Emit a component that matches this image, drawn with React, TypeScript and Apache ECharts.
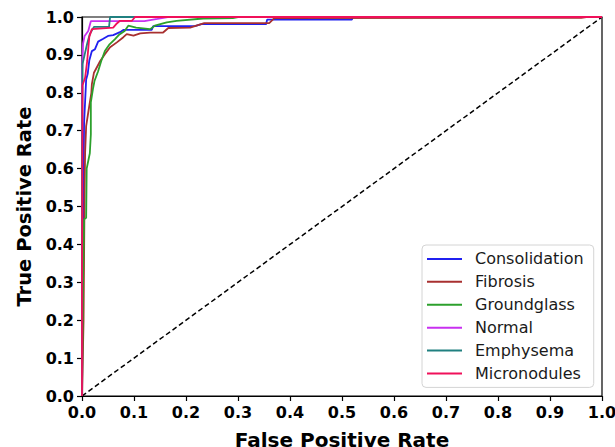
import React, { useEffect, useRef } from "react";
import * as echarts from "echarts";

const seriesNames = ["Consolidation", "Fibrosis", "Groundglass", "Normal", "Emphysema", "Micronodules"];
const seriesColors = ["#2020f0", "#a83030", "#2ca02c", "#c830f0", "#208080", "#f0105a"];

const consolidation = [[0,0],[0.002,0.45],[0.004,0.72],[0.008,0.835],[0.011,0.85],[0.014,0.885],[0.019,0.91],[0.025,0.915],[0.031,0.935],[0.04,0.942],[0.05,0.95],[0.06,0.952],[0.073,0.96],[0.08,0.966],[0.134,0.966],[0.137,0.976],[0.217,0.976],[0.23,0.981],[0.354,0.981],[0.356,0.993],[0.519,0.993],[0.521,1],[1,1]];
const fibrosis = [[0,0],[0.003,0.2],[0.005,0.545],[0.006,0.643],[0.008,0.712],[0.012,0.748],[0.018,0.8],[0.019,0.823],[0.023,0.853],[0.035,0.884],[0.044,0.902],[0.054,0.92],[0.067,0.933],[0.079,0.946],[0.086,0.955],[0.099,0.951],[0.112,0.957],[0.131,0.959],[0.156,0.959],[0.166,0.971],[0.208,0.972],[0.217,0.976],[0.235,0.984],[0.36,0.984],[0.37,0.997],[0.96,0.998],[0.97,1],[1,1]];
const groundglass = [[0,0],[0.002,0.3],[0.004,0.466],[0.008,0.47],[0.009,0.6],[0.012,0.62],[0.015,0.64],[0.017,0.69],[0.017,0.775],[0.021,0.81],[0.024,0.831],[0.031,0.857],[0.037,0.884],[0.044,0.91],[0.053,0.928],[0.063,0.941],[0.072,0.954],[0.082,0.963],[0.089,0.977],[0.104,0.972],[0.131,0.968],[0.14,0.977],[0.163,0.986],[0.182,0.99],[0.233,0.996],[0.29,0.997],[0.3,1],[1,1]];
const normal = [[0,0],[0,0.85],[0.002,0.93],[0.005,0.95],[0.012,0.963],[0.017,0.989],[0.12,0.989],[0.145,0.995],[0.165,1],[1,1]];
const emphysema = [[0,0],[0,0.6],[0.001,0.876],[0.005,0.9],[0.01,0.93],[0.015,0.955],[0.023,0.974],[0.052,0.974],[0.054,1],[1,1]];
const micronodules = [[0,0],[0,0.3],[0.001,0.82],[0.006,0.84],[0.01,0.884],[0.014,0.947],[0.019,0.968],[0.06,0.972],[0.067,0.983],[0.073,0.99],[0.096,0.99],[0.102,1],[1,1]];
const diagonal = [[0,0],[1,1]];

const allData = [consolidation, fibrosis, groundglass, normal, emphysema, micronodules];

export default function App() {
  const ref = useRef<HTMLDivElement>(null);
  useEffect(() => {
    if (!ref.current) return;
    document.body.style.margin = "0";
    document.body.style.overflow = "hidden";
    const chart = echarts.init(ref.current, null, { renderer: "svg", width: 615, height: 447 });
    const font = "DejaVu Sans";
    const axisCommon = {
      type: "value" as const,
      min: 0,
      max: 1,
      interval: 0.1,
      nameLocation: "middle" as const,
      axisLine: { show: true, lineStyle: { color: "#000", width: 1.2 } },
      axisTick: { show: true, length: 5, lineStyle: { color: "#000", width: 1.2 } },
      axisLabel: {
        fontFamily: font, fontWeight: "bold", fontSize: 16, color: "#000", margin: 8,
        formatter: (v: number) => v.toFixed(1),
      },
      splitLine: { show: false },
    };
    chart.setOption({
      animation: false,
      backgroundColor: "#fff",
      grid: {
        left: 82, right: 13, top: 17, bottom: 51,
        show: true, borderColor: "#000", borderWidth: 1.2,
        containLabel: false, outerBoundsMode: "none",
      },
      xAxis: {
        ...axisCommon,
        name: "False Positive Rate",
        nameGap: 34,
        nameTextStyle: { fontFamily: font, fontWeight: "bold", fontSize: 20, color: "#000" },
      },
      yAxis: {
        ...axisCommon,
        name: "True Positive Rate",
        nameGap: 46,
        nameTextStyle: { fontFamily: font, fontWeight: "bold", fontSize: 19.5, color: "#000" },
      },
      legend: {
        data: seriesNames,
        orient: "vertical",
        left: 422,
        top: 245,
        padding: [5, 10, 5, 5],
        itemWidth: 35,
        itemHeight: 2,
        itemGap: 5,
        icon: "rect",
        backgroundColor: "#fff",
        borderColor: "#d4d4d4",
        borderWidth: 1,
        borderRadius: 4,
        textStyle: { fontFamily: font, fontSize: 16, color: "#1a1a1a", padding: [0, 0, 0, 8], lineHeight: 17.9 },
      },
      series: [
        ...allData.map((d, i) => ({
          name: seriesNames[i],
          type: "line",
          data: d,
          showSymbol: false,
          symbol: "none",
          lineStyle: { color: seriesColors[i], width: 1.8 },
          itemStyle: { color: seriesColors[i] },
          z: 3,
        })),
        {
          name: "diag",
          type: "line",
          data: diagonal,
          symbol: "none",
          lineStyle: { color: "#000", width: 1.5, type: [5, 3] },
          z: 2,
        },
      ],
    });
    return () => chart.dispose();
  }, []);
  return <div ref={ref} style={{ width: 615, height: 447 }} />;
}
